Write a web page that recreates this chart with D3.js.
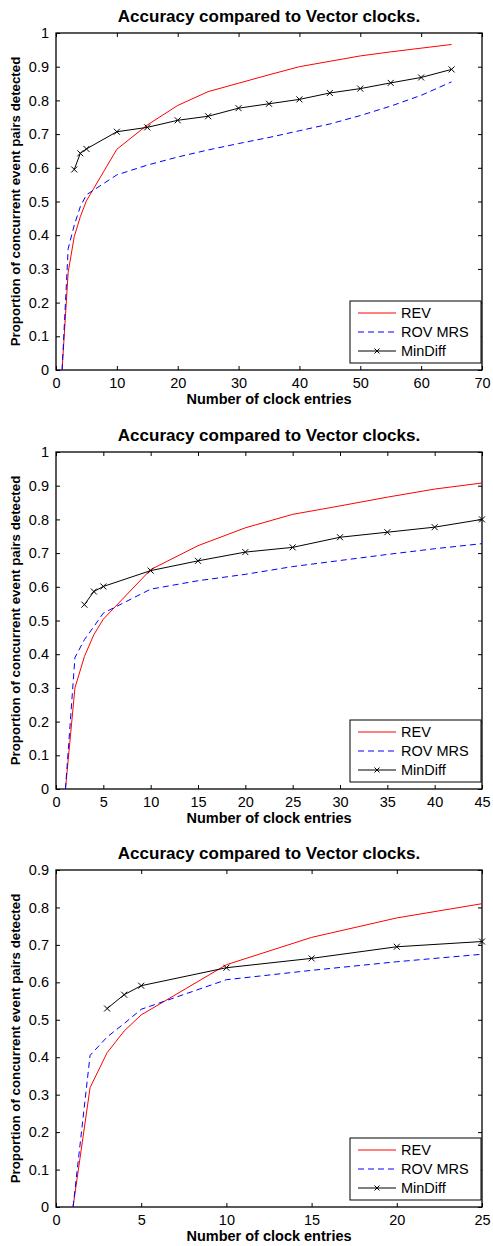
<!DOCTYPE html>
<html lang="en">
<head>
<meta charset="UTF-8"/>
<script src="https://d3js.org/d3.v7.min.js"></script>
<title>Accuracy compared to Vector clocks</title>
<style>
  body { margin: 0; background: #fff; }
  svg text { font-family: "Liberation Sans", Arial, Helvetica, sans-serif; fill: #000; }
</style>
</head>
<body>
<script type="text/javascript">
// values
var seriesNames = ["REV", "ROV MRS", "MinDiff"];

var p1X      = [1, 2, 3, 4, 5, 10, 15, 20, 25, 30, 35, 40, 45, 50, 55, 60, 65];
var p1Rev    = [0, 0.29, 0.396, 0.455, 0.502, 0.655, 0.727, 0.785, 0.826, 0.851, 0.876, 0.9, 0.916, 0.932, 0.944, 0.955, 0.966];
var p1Rov    = [0, 0.36, 0.43, 0.485, 0.52, 0.579, 0.608, 0.632, 0.653, 0.672, 0.69, 0.71, 0.73, 0.755, 0.783, 0.815, 0.855];
var p1MinX   = [3, 4, 5, 10, 15, 20, 25, 30, 35, 40, 45, 50, 55, 60, 65];
var p1Min    = [0.595, 0.643, 0.656, 0.707, 0.72, 0.741, 0.753, 0.777, 0.79, 0.803, 0.822, 0.835, 0.852, 0.868, 0.892];
var p1XTicks = [0, 10, 20, 30, 40, 50, 60, 70];
var p1YTicks = [0, 0.1, 0.2, 0.3, 0.4, 0.5, 0.6, 0.7, 0.8, 0.9, 1];

var p2X      = [1, 2, 3, 4, 5, 10, 15, 20, 25, 30, 35, 40, 45];
var p2Rev    = [0, 0.30, 0.393, 0.458, 0.504, 0.651, 0.722, 0.775, 0.815, 0.84, 0.866, 0.89, 0.908];
var p2Rov    = [0, 0.39, 0.443, 0.482, 0.522, 0.593, 0.618, 0.637, 0.66, 0.678, 0.696, 0.713, 0.728];
var p2MinX   = [3, 4, 5, 10, 15, 20, 25, 30, 35, 40, 45];
var p2Min    = [0.547, 0.586, 0.601, 0.648, 0.677, 0.703, 0.717, 0.747, 0.762, 0.777, 0.8];
var p2XTicks = [0, 5, 10, 15, 20, 25, 30, 35, 40, 45];
var p2YTicks = [0, 0.1, 0.2, 0.3, 0.4, 0.5, 0.6, 0.7, 0.8, 0.9, 1];

var p3X      = [1, 2, 3, 4, 5, 10, 15, 20, 25];
var p3Rev    = [0, 0.319, 0.412, 0.47, 0.513, 0.647, 0.72, 0.772, 0.81];
var p3Rov    = [0, 0.405, 0.454, 0.49, 0.528, 0.607, 0.632, 0.655, 0.675];
var p3MinX   = [3, 4, 5, 10, 15, 20, 25];
var p3Min    = [0.53, 0.567, 0.591, 0.639, 0.664, 0.695, 0.709];
var p3XTicks = [0, 5, 10, 15, 20, 25];
var p3YTicks = [0, 0.1, 0.2, 0.3, 0.4, 0.5, 0.6, 0.7, 0.8, 0.9];

var w = 493, h = 1246;
var left = 56, right = 482, plotH = 337;

var svg = d3.select("body").append("svg")
            .attr("width", w)
            .attr("height", h);

function zip(xs, ys) {
    return xs.map(function(x, i) { return [x, ys[i]]; });
}

function drawPanel(top, xs, rev, rov, minX, mins, xTicks, yTicks) {
    var bottom = top + plotH;
    var xScale = d3.scaleLinear()
                   .domain([xTicks[0], xTicks[xTicks.length - 1]])
                   .range([left, right]);
    var yScale = d3.scaleLinear()
                   .domain([yTicks[0], yTicks[yTicks.length - 1]])
                   .range([bottom, top]);

    var g = svg.append("g");

    // tick marks point inward, MATLAB style, on all four sides
    var fmt = function(d) { return d3.format("~g")(d); };
    var xAxis = d3.axisBottom(xScale).tickValues(xTicks).tickFormat(fmt).tickSizeInner(-4).tickSizeOuter(0).tickPadding(8);
    var xTop  = d3.axisTop(xScale).tickValues(xTicks).tickFormat("").tickSizeInner(-4).tickSizeOuter(0);
    var yAxis = d3.axisLeft(yScale).tickValues(yTicks).tickFormat(fmt).tickSizeInner(-4).tickSizeOuter(0).tickPadding(7);
    var yRight = d3.axisRight(yScale).tickValues(yTicks).tickFormat("").tickSizeInner(-4).tickSizeOuter(0);

    [[xAxis, "translate(0," + bottom + ")"],
     [xTop, "translate(0," + top + ")"],
     [yAxis, "translate(" + left + ",0)"],
     [yRight, "translate(" + right + ",0)"]].forEach(function(a) {
        var ax = g.append("g").attr("transform", a[1]).call(a[0]);
        ax.select(".domain").remove();
        ax.selectAll("line").attr("stroke", "#000");
        ax.selectAll("text").style("font-size", "14.5px").attr("fill", "#000");
    });

    g.append("rect")
     .attr("x", left).attr("y", top)
     .attr("width", right - left).attr("height", plotH)
     .attr("fill", "none").attr("stroke", "#000").attr("stroke-width", 1.3);

    var line = d3.line()
                 .x(function(d) { return xScale(d[0]); })
                 .y(function(d) { return yScale(d[1]); });

    g.append("path").datum(zip(xs, rev))
     .attr("d", line).attr("fill", "none").attr("stroke", "#ff0000").attr("stroke-width", 1);

    g.append("path").datum(zip(xs, rov))
     .attr("d", line).attr("fill", "none").attr("stroke", "#0000ff")
     .attr("stroke-width", 1).attr("stroke-dasharray", "6,4");

    var minPts = zip(minX, mins);
    g.append("path").datum(minPts)
     .attr("d", line).attr("fill", "none").attr("stroke", "#000").attr("stroke-width", 1);

    var s = 3;
    g.selectAll(".mk").data(minPts).enter()
     .append("path")
     .attr("d", function(d) {
         var cx = xScale(d[0]), cy = yScale(d[1]);
         return "M" + (cx - s) + "," + (cy - s) + "L" + (cx + s) + "," + (cy + s) +
                "M" + (cx - s) + "," + (cy + s) + "L" + (cx + s) + "," + (cy - s);
     })
     .attr("stroke", "#000").attr("stroke-width", 1);

    // title and axis labels
    g.append("text")
     .attr("x", (left + right) / 2).attr("y", top - 11)
     .attr("text-anchor", "middle")
     .style("font-size", "17px").style("font-weight", "bold")
     .text("Accuracy compared to Vector clocks.");

    g.append("text")
     .attr("x", (left + right) / 2).attr("y", bottom + 34)
     .attr("text-anchor", "middle")
     .style("font-size", "14.5px").style("font-weight", "bold")
     .text("Number of clock entries");

    g.append("text")
     .attr("transform", "translate(20," + (top + plotH / 2) + ") rotate(-90)")
     .attr("text-anchor", "middle")
     .style("font-size", "13.3px").style("font-weight", "bold")
     .text("Proportion of concurrent event pairs detected");

    // legend, lower right corner
    var lw = 131, lh = 62;
    var lx = right - lw - 1, ly = bottom - lh - 7;
    var leg = g.append("g").attr("transform", "translate(" + lx + "," + ly + ")");
    leg.append("rect").attr("width", lw).attr("height", lh)
       .attr("fill", "#fff").attr("stroke", "#000").attr("stroke-width", 1);
    var styles = [
        { color: "#ff0000", dash: null, mark: false },
        { color: "#0000ff", dash: "6,4", mark: false },
        { color: "#000", dash: null, mark: true }
    ];
    seriesNames.forEach(function(name, i) {
        var yy = 12 + i * 19;
        leg.append("line").attr("x1", 8).attr("x2", 46).attr("y1", yy).attr("y2", yy)
           .attr("stroke", styles[i].color).attr("stroke-width", 1)
           .attr("stroke-dasharray", styles[i].dash);
        if (styles[i].mark) {
            leg.append("path")
               .attr("d", "M" + (27 - 2.5) + "," + (yy - 2.5) + "L" + (27 + 2.5) + "," + (yy + 2.5) +
                          "M" + (27 - 2.5) + "," + (yy + 2.5) + "L" + (27 + 2.5) + "," + (yy - 2.5))
               .attr("stroke", "#000").attr("stroke-width", 1);
        }
        leg.append("text").attr("x", 51).attr("y", yy + 5)
           .style("font-size", "14.5px").text(name);
    });
}

drawPanel(33, p1X, p1Rev, p1Rov, p1MinX, p1Min, p1XTicks, p1YTicks);
drawPanel(452, p2X, p2Rev, p2Rov, p2MinX, p2Min, p2XTicks, p2YTicks);
drawPanel(870, p3X, p3Rev, p3Rov, p3MinX, p3Min, p3XTicks, p3YTicks);
</script>
</body>
</html>
